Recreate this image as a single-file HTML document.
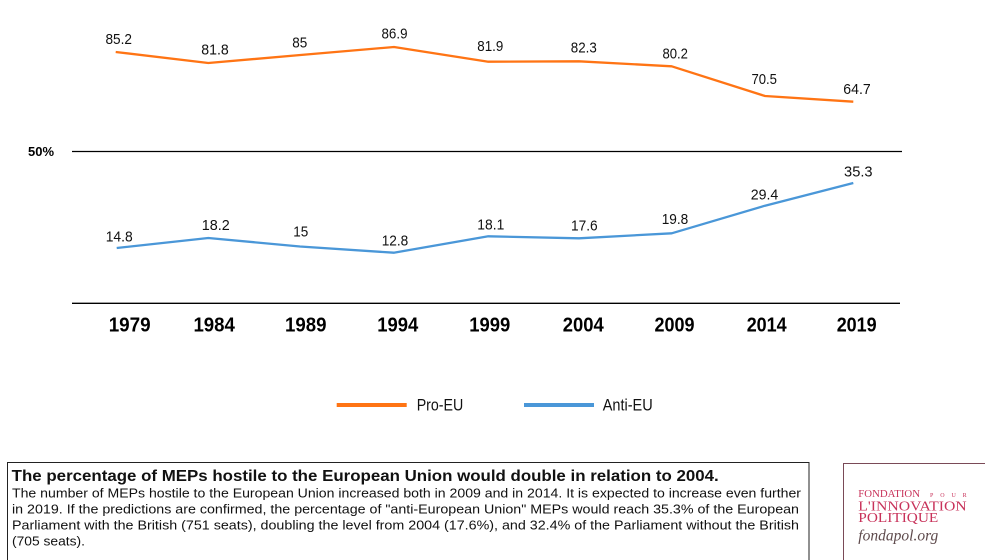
<!DOCTYPE html>
<html>
<head>
<meta charset="utf-8">
<style>
  html, body { margin: 0; padding: 0; background: #ffffff; }
  svg { display: block; }
  .sans { font-family: "Liberation Sans", "DejaVu Sans", sans-serif; }
</style>
</head>
<body>
<svg width="985" height="560" viewBox="0 0 985 560" xmlns="http://www.w3.org/2000/svg">
  <rect x="0" y="0" width="985" height="560" fill="#ffffff"/>

  <!-- axis lines -->
  <line x1="72" y1="151.5" x2="902" y2="151.5" stroke="#000" stroke-width="1.3"/>
  <line x1="72" y1="303.3" x2="900" y2="303.3" stroke="#000" stroke-width="1.3"/>
  <text class="sans" x="28" y="156" font-size="12.5" font-weight="bold" textLength="26" lengthAdjust="spacingAndGlyphs" fill="#000">50%</text>

  <!-- series -->
  <polyline fill="none" stroke="#ff7414" stroke-width="2.3" stroke-linejoin="round"
    points="115.7,52 208.3,63 300.5,55 394,47 488.3,61.7 579,61.3 671.7,66.3 765,96 853.3,101.7"/>
  <polyline fill="none" stroke="#4a97d8" stroke-width="2.3" stroke-linejoin="round"
    points="116.7,248 208.3,238 300,246.5 393.7,252.7 488.3,236.3 579,238.3 671.7,233.3 765,205.7 853.3,183"/>

  <!-- data labels -->
  <g class="sans" font-size="15" fill="#111" text-anchor="middle">
    <text x="118.7" y="44" textLength="26.5" lengthAdjust="spacingAndGlyphs">85.2</text>
    <text x="215" y="54.3" textLength="27.5" lengthAdjust="spacingAndGlyphs">81.8</text>
    <text x="299.8" y="47.3" textLength="15" lengthAdjust="spacingAndGlyphs">85</text>
    <text x="394.5" y="38.3" textLength="26" lengthAdjust="spacingAndGlyphs">86.9</text>
    <text x="490.3" y="51" textLength="26" lengthAdjust="spacingAndGlyphs">81.9</text>
    <text x="583.8" y="52.3" textLength="26" lengthAdjust="spacingAndGlyphs">82.3</text>
    <text x="675.2" y="58.3" textLength="25.5" lengthAdjust="spacingAndGlyphs">80.2</text>
    <text x="764.2" y="84" textLength="25.5" lengthAdjust="spacingAndGlyphs">70.5</text>
    <text x="857" y="94" textLength="27.4" lengthAdjust="spacingAndGlyphs">64.7</text>

    <text x="119.2" y="241.3" textLength="27" lengthAdjust="spacingAndGlyphs">14.8</text>
    <text x="215.8" y="230" textLength="28" lengthAdjust="spacingAndGlyphs">18.2</text>
    <text x="300.8" y="236.7" textLength="15" lengthAdjust="spacingAndGlyphs">15</text>
    <text x="395" y="245.7" textLength="26.6" lengthAdjust="spacingAndGlyphs">12.8</text>
    <text x="490.8" y="229.3" textLength="27" lengthAdjust="spacingAndGlyphs">18.1</text>
    <text x="584.3" y="230.7" textLength="26.7" lengthAdjust="spacingAndGlyphs">17.6</text>
    <text x="675" y="224" textLength="26.6" lengthAdjust="spacingAndGlyphs">19.8</text>
    <text x="764.5" y="199.3" textLength="27.6" lengthAdjust="spacingAndGlyphs">29.4</text>
    <text x="858.3" y="176.7" textLength="28.5" lengthAdjust="spacingAndGlyphs">35.3</text>
  </g>

  <!-- year labels -->
  <g class="sans" font-size="20" font-weight="bold" fill="#000" text-anchor="middle">
    <text x="129.7" y="331.5" textLength="42" lengthAdjust="spacingAndGlyphs">1979</text>
    <text x="214.2" y="331.5" textLength="41.5" lengthAdjust="spacingAndGlyphs">1984</text>
    <text x="305.8" y="331.5" textLength="41.5" lengthAdjust="spacingAndGlyphs">1989</text>
    <text x="397.8" y="331.5" textLength="41" lengthAdjust="spacingAndGlyphs">1994</text>
    <text x="489.8" y="331.5" textLength="41" lengthAdjust="spacingAndGlyphs">1999</text>
    <text x="583.3" y="331.5" textLength="41" lengthAdjust="spacingAndGlyphs">2004</text>
    <text x="674.5" y="331.5" textLength="40" lengthAdjust="spacingAndGlyphs">2009</text>
    <text x="766.7" y="331.5" textLength="40" lengthAdjust="spacingAndGlyphs">2014</text>
    <text x="856.7" y="331.5" textLength="40" lengthAdjust="spacingAndGlyphs">2019</text>
  </g>

  <!-- legend -->
  <line x1="336.7" y1="405" x2="406.7" y2="405" stroke="#ff7414" stroke-width="4"/>
  <text class="sans" x="416.7" y="410.5" font-size="17" fill="#111" textLength="46.6" lengthAdjust="spacingAndGlyphs">Pro-EU</text>
  <line x1="524" y1="405" x2="594" y2="405" stroke="#4a97d8" stroke-width="4"/>
  <text class="sans" x="602.7" y="410.5" font-size="17" fill="#111" textLength="50" lengthAdjust="spacingAndGlyphs">Anti-EU</text>

  <!-- text box -->
  <rect x="7.5" y="462.5" width="801.5" height="120" fill="none" stroke="#222" stroke-width="1"/>
  <text class="sans" x="11.7" y="481" font-size="15.5" font-weight="bold" fill="#111" textLength="707" lengthAdjust="spacingAndGlyphs">The percentage of MEPs hostile to the European Union would double in relation to 2004.</text>
  <g class="sans" font-size="13" fill="#111">
    <text x="12" y="497.5" textLength="789" lengthAdjust="spacingAndGlyphs">The number of MEPs hostile to the European Union increased both in 2009 and in 2014. It is expected to increase even further</text>
    <text x="12" y="513.5" textLength="787" lengthAdjust="spacingAndGlyphs">in 2019. If the predictions are confirmed, the percentage of "anti-European Union" MEPs would reach 35.3% of the European</text>
    <text x="12" y="529.5" textLength="787" lengthAdjust="spacingAndGlyphs">Parliament with the British (751 seats), doubling the level from 2004 (17.6%), and 32.4% of the Parliament without the British</text>
    <text x="12" y="545.5" textLength="73" lengthAdjust="spacingAndGlyphs">(705 seats).</text>
  </g>

  <!-- logo -->
  <rect x="843.5" y="463.5" width="150" height="120" fill="#ffffff" stroke="#7a4a57" stroke-width="1"/>
  <g fill="#c8325a">
    <text x="858.3" y="497" style="font-family:'Liberation Serif', serif; font-size:10.5px;" textLength="61.7" lengthAdjust="spacingAndGlyphs">FONDATION</text>
    <text x="930" y="497" style="font-family:'Liberation Serif', serif; font-size:6px;" textLength="36.7" lengthAdjust="spacing">POUR</text>
    <text x="858.3" y="510.7" style="font-family:'Liberation Serif', serif; font-size:13.5px;" textLength="108.4" lengthAdjust="spacingAndGlyphs">L'INNOVATION</text>
    <text x="858.3" y="522" style="font-family:'Liberation Serif', serif; font-size:13.5px;" textLength="80" lengthAdjust="spacingAndGlyphs">POLITIQUE</text>
  </g>
  <text x="858.3" y="540.5" style="font-family:'Liberation Serif', serif; font-size:16px; font-style:italic;" fill="#5e4a4c" textLength="80" lengthAdjust="spacingAndGlyphs">fondapol.org</text>
</svg>
</body>
</html>
